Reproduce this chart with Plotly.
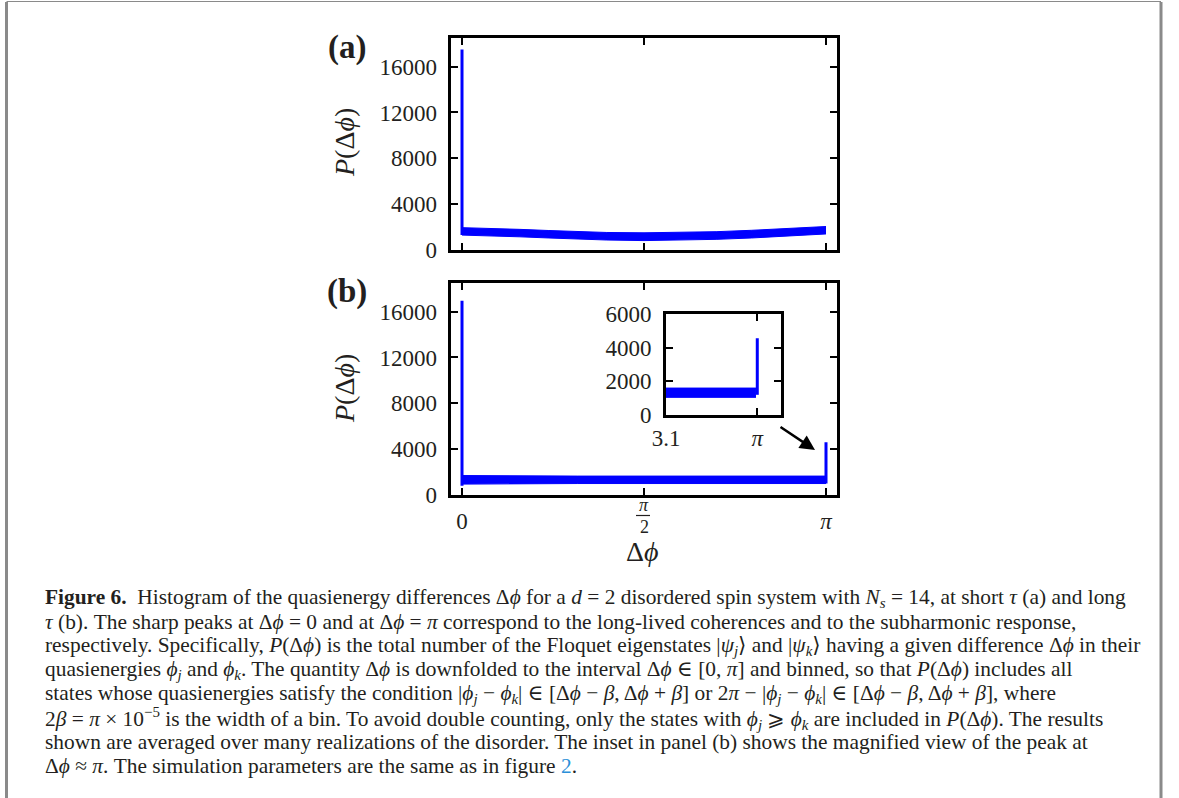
import math
import plotly.graph_objects as go

W, H = 1179, 798
PI = math.pi

# Panel (a), short tau: band of histogram counts sampled along the phase axis
phi_a = [0.0, 0.25, 0.5, 0.75, 1.0, 1.25, 1.5708, 1.9, 2.2, 2.5, 2.8, 3.0, 3.1416]
low_a = [1300, 1250, 1150, 1050, 950, 870, 820, 850, 930, 1050, 1200, 1320, 1400]
up_a = [1950, 1900, 1800, 1700, 1600, 1530, 1500, 1530, 1600, 1720, 1850, 1950, 2050]
peak_a = [1300, 17500]          # spike at delta phi = 0

# Panel (b), long tau
phi_b = [0.0, 0.5, 1.0, 1.5708, 2.0, 2.5, 3.1416]
low_b = [950, 1000, 1000, 1000, 1000, 1000, 1000]
up_b = [1700, 1650, 1650, 1650, 1650, 1650, 1650]
peak_b0 = [800, 16950]          # spike at delta phi = 0
peak_bpi = [1000, 4600]         # spike at delta phi = pi

# Inset: zoom near delta phi = pi
phi_i = [3.1, 3.115, 3.13, 3.1410]
low_i = [1050, 1050, 1050, 1050]
up_i = [1600, 1600, 1600, 1600]
peak_i = [1200, 4560]

y_ticks = [0, 4000, 8000, 12000, 16000]
y_ticktext = ["0", "4000", "8000", "12000", "16000"]
inset_y_ticks = [0, 2000, 4000, 6000]
inset_y_ticktext = ["0", "2000", "4000", "6000"]

BLUE = "#0000ff"
SERIF = "Liberation Serif, DejaVu Serif, serif"
TXT = "#231f20"


def px(x):
    return x / W


def py(y):
    return 1 - y / H


def band(fig, xs, lo, hi, xa, ya):
    fig.add_trace(go.Scatter(x=xs, y=lo, mode="lines", line=dict(color=BLUE, width=1),
                             xaxis=xa, yaxis=ya, hoverinfo="skip"))
    fig.add_trace(go.Scatter(x=xs, y=hi, mode="lines", line=dict(color=BLUE, width=1),
                             fill="tonexty", fillcolor=BLUE, xaxis=xa, yaxis=ya, hoverinfo="skip"))


def spike(fig, x0, ys, xa, ya, w=3):
    fig.add_trace(go.Scatter(x=[x0, x0], y=ys, mode="lines", line=dict(color=BLUE, width=w),
                             xaxis=xa, yaxis=ya, hoverinfo="skip"))


fig = go.Figure()
band(fig, phi_a, low_a, up_a, "x", "y")
spike(fig, 0.0, peak_a, "x", "y")
band(fig, phi_b, low_b, up_b, "x2", "y2")
spike(fig, 0.0, peak_b0, "x2", "y2")
spike(fig, PI, peak_bpi, "x2", "y2")
band(fig, phi_i, low_i, up_i, "x3", "y3")
spike(fig, PI, peak_i, "x3", "y3")

axis_common = dict(showline=True, linecolor="black", linewidth=3, mirror="allticks",
                   ticks="inside", ticklen=7, tickwidth=2, tickcolor="black",
                   showgrid=False, zeroline=False, automargin=False,
                   tickfont=dict(family=SERIF, size=23, color=TXT))

xr = [-0.0993, PI + 0.0949]
yr = [0, 18500]

fig.update_layout(
    template="none",
    width=W, height=H, autosize=False,
    margin=dict(l=0, r=0, t=0, b=0, pad=0),
    paper_bgcolor="white", plot_bgcolor="white",
    showlegend=False,
    xaxis=dict(domain=[px(450.5), px(837)], range=xr, anchor="y",
               tickvals=[0, PI / 2, PI], showticklabels=False, **axis_common),
    yaxis=dict(domain=[py(250), py(38)], range=yr, anchor="x",
               tickvals=y_ticks, ticktext=y_ticktext, ticklabelstandoff=6, **axis_common),
    xaxis2=dict(domain=[px(450.5), px(837)], range=xr, anchor="y2",
                tickvals=[0, PI / 2, PI], ticktext=["0", " ", "<i>π</i>"],
                ticklabelstandoff=3, **axis_common),
    yaxis2=dict(domain=[py(495), py(283)], range=yr, anchor="x2",
                tickvals=y_ticks, ticktext=y_ticktext, ticklabelstandoff=6, **axis_common),
    xaxis3=dict(domain=[px(666), px(781)], range=[3.1, 3.1524], anchor="y3",
                tickvals=[3.1, PI], ticktext=["3.1", "<i>π</i>"],
                ticklabelstandoff=0, **axis_common),
    yaxis3=dict(domain=[py(415), py(314)], range=[0, 6000], anchor="x3",
                tickvals=inset_y_ticks, ticktext=inset_y_ticktext, ticklabelstandoff=7,
                **axis_common),
)


def label(text, x, y, size, xref="paper", angle=0, **kw):
    return dict(text=text, x=x, y=y, xref=xref, yref="paper", xanchor="center",
                yanchor="middle", textangle=angle, showarrow=False,
                font=dict(family=SERIF, size=size, color=TXT), **kw)


ann = []
# panel labels
ann.append(label("<b>(a)</b>", px(347), py(47), 33))
ann.append(label("<b>(b)</b>", px(347), py(291), 33))
# y titles
for yc in (143, 389):
    ann.append(label("<i>P</i>(Δ<i>ϕ</i>)", px(344), py(yc), 28, angle=-90))
# x title
ann.append(label("Δ<i>ϕ</i>", px(642), py(551), 28))
# pi/2 fraction label
ann.append(label("<i>π</i>", PI / 2, py(505), 18, xref="x2"))
ann.append(label("2", PI / 2, py(527), 18, xref="x2"))
# arrow pointing to the pi spike (tail offset given in pixels)
ann.append(dict(x=px(815), y=py(450), ax=-36, ay=-24, xref="paper", yref="paper",
                axref="pixel", ayref="pixel", showarrow=True, arrowhead=2, arrowsize=1.2,
                arrowwidth=2.5, arrowcolor="black", text=""))

caption = [
    "<b>Figure 6.</b>  Histogram of the quasienergy differences Δ<i>ϕ</i> for a <i>d</i> = 2 disordered spin system with <i>N<sub>s</sub></i> = 14, at short <i>τ</i> (a) and long",
    "<i>τ</i> (b). The sharp peaks at Δ<i>ϕ</i> = 0 and at Δ<i>ϕ</i> = <i>π</i> correspond to the long-lived coherences and to the subharmonic response,",
    "respectively. Specifically, <i>P</i>(Δ<i>ϕ</i>) is the total number of the Floquet eigenstates |<i>ψ<sub>j</sub></i>⟩ and |<i>ψ<sub>k</sub></i>⟩ having a given difference Δ<i>ϕ</i> in their",
    "quasienergies <i>ϕ<sub>j</sub></i> and <i>ϕ<sub>k</sub></i>. The quantity Δ<i>ϕ</i> is downfolded to the interval Δ<i>ϕ</i> ∈ [0, <i>π</i>] and binned, so that <i>P</i>(Δ<i>ϕ</i>) includes all",
    "states whose quasienergies satisfy the condition |<i>ϕ<sub>j</sub></i> − <i>ϕ<sub>k</sub></i>| ∈ [Δ<i>ϕ</i> − <i>β</i>, Δ<i>ϕ</i> + <i>β</i>] or 2<i>π</i> − |<i>ϕ<sub>j</sub></i> − <i>ϕ<sub>k</sub></i>| ∈ [Δ<i>ϕ</i> − <i>β</i>, Δ<i>ϕ</i> + <i>β</i>], where",
    "2<i>β</i> = <i>π</i> × 10<sup>−5</sup> is the width of a bin. To avoid double counting, only the states with <i>ϕ<sub>j</sub></i> ⩾ <i>ϕ<sub>k</sub></i> are included in <i>P</i>(Δ<i>ϕ</i>). The results",
    "shown are averaged over many realizations of the disorder. The inset in panel (b) shows the magnified view of the peak at",
    "Δ<i>ϕ</i> ≈ <i>π</i>. The simulation parameters are the same as in figure <span style='color:#2a8fd8'>2</span>.",
]
for i, line in enumerate(caption):
    ann.append(dict(text=line, x=px(43), y=py(598 + 24 * i), xref="paper", yref="paper",
                    xanchor="left", yanchor="middle", align="left", showarrow=False,
                    font=dict(family=SERIF, size=21.4, color=TXT)))

fig.update_layout(annotations=ann)

shapes = [
    # fraction bar of the pi/2 label
    dict(type="line", xref="paper", yref="paper", x0=px(636), x1=px(650), y0=py(515.5), y1=py(515.5),
         line=dict(color=TXT, width=1.2)),
    # page frame
    dict(type="line", xref="paper", yref="paper", x0=px(6.5), x1=px(6.5), y0=0, y1=py(2),
         line=dict(color="#8a8a8a", width=3)),
    dict(type="line", xref="paper", yref="paper", x0=px(1161), x1=px(1161), y0=0, y1=py(2),
         line=dict(color="#8a8a8a", width=3)),
    dict(type="line", xref="paper", yref="paper", x0=px(6.5), x1=px(1161), y0=py(1.5), y1=py(1.5),
         line=dict(color="#8a8a8a", width=1)),
]
fig.update_layout(shapes=shapes)

fig.write_html("out.html", config={"displayModeBar": False})
